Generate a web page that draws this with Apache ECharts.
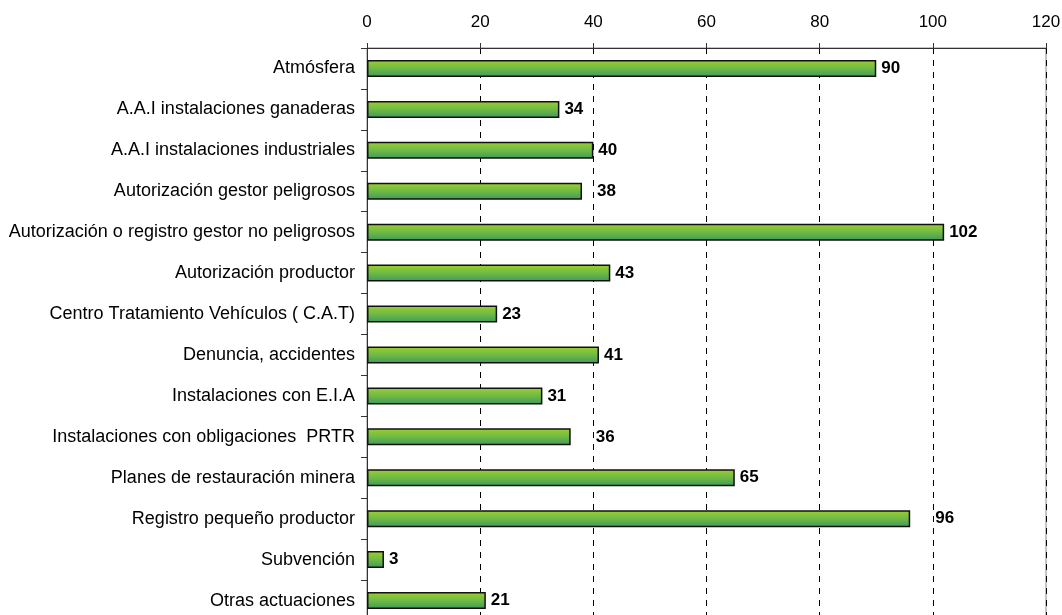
<!DOCTYPE html>
<html>
<head>
<meta charset="utf-8">
<script src="https://cdn.jsdelivr.net/npm/echarts@6/dist/echarts.min.js"></script>
<style>html,body{margin:0;padding:0;background:#fff}#c{width:1062px;height:615px}</style>
</head>
<body>
<div id="c"></div>
<script>
var categories = [
  "Atmósfera",
  "A.A.I instalaciones ganaderas",
  "A.A.I instalaciones industriales",
  "Autorización gestor peligrosos",
  "Autorización o registro gestor no peligrosos",
  "Autorización productor",
  "Centro Tratamiento Vehículos ( C.A.T)",
  "Denuncia, accidentes",
  "Instalaciones con E.I.A",
  "Instalaciones con obligaciones  PRTR",
  "Planes de restauración minera",
  "Registro pequeño productor",
  "Subvención",
  "Otras actuaciones"
];
var values = [90, 34, 40, 38, 102, 43, 23, 41, 31, 36, 65, 96, 3, 21];
var xTicks = [0, 20, 40, 60, 80, 100, 120];

// extra label shifts seen in the reference (pixels)
var labelShift = {3: 10, 9: 20, 11: 20};

var chart = echarts.init(document.getElementById('c'), null, {renderer: 'canvas'});
var grad = new echarts.graphic.LinearGradient(0, 0, 0, 1, [
  {offset: 0, color: '#9ccf30'},
  {offset: 0.5, color: '#6fba45'},
  {offset: 1, color: '#3f985c'}
]);
var data = values.map(function (v, i) {
  var d = {value: v};
  if (labelShift[i]) d.label = {offset: [labelShift[i], 0]};
  return d;
});
var FONT = 'Liberation Sans, Arial, sans-serif';
chart.setOption({
  animation: false,
  backgroundColor: '#fff',
  grid: {left: 367, width: 679, top: 48, height: 573, containLabel: false, outerBoundsMode: 'none',
    show: true, borderColor: '#888', borderWidth: 1, backgroundColor: 'transparent'},
  xAxis: {
    type: 'value', position: 'top', min: xTicks[0], max: xTicks[xTicks.length - 1], interval: 20,
    axisLine: {show: true, lineStyle: {color: '#333', width: 1}},
    axisTick: {show: true, inside: false, length: 5, lineStyle: {color: '#333'}},
    axisLabel: {color: '#000', fontFamily: FONT, fontSize: 17, margin: 17},
    splitLine: {show: true, lineStyle: {color: '#000', type: [6, 6], width: 1}}
  },
  yAxis: {
    type: 'category', data: categories, inverse: true,
    axisLine: {show: true, lineStyle: {color: '#333', width: 1}},
    axisTick: {show: true, length: 6, lineStyle: {color: '#333'}},
    axisLabel: {color: '#000', fontFamily: FONT, fontSize: 18, margin: 12}
  },
  series: [{
    type: 'bar', data: data, barWidth: 17,
    itemStyle: {color: grad, borderColor: '#111', borderWidth: 1.5},
    label: {show: true, position: 'right', distance: 5, color: '#000', fontWeight: 'bold',
      fontFamily: FONT, fontSize: 17}
  }]
});
</script>
</body>
</html>
